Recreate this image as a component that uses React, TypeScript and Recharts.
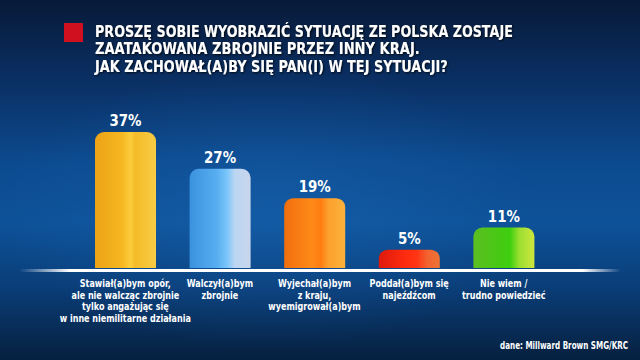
import React from 'react';
import { BarChart, Bar, XAxis, YAxis, Cell, LabelList } from 'recharts';

const answers = [
  'Stawiał(a)bym opór,\nale nie walcząc zbrojnie\ntylko angażując się\nw inne niemilitarne działania',
  'Walczył(a)bym\nzbrojnie',
  'Wyjechał(a)bym\nz kraju,\nwyemigrował(a)bym',
  'Poddał(a)bym się\nnajeźdźcom',
  'Nie wiem /\ntrudno powiedzieć',
];
const shares = [37, 27, 19, 5, 11];
const titleLines = [
  'PROSZĘ SOBIE WYOBRAZIĆ SYTUACJĘ ZE POLSKA ZOSTAJE',
  'ZAATAKOWANA ZBROJNIE PRZEZ INNY KRAJ.',
  'JAK ZACHOWAŁ(A)BY SIĘ PAN(I) W TEJ SYTUACJI?',
];
const source = 'dane: Millward Brown SMG/KRC';

// horizontal "cylinder" shading per bar
const barStops = [
  [['0%', '#eca215'], ['45%', '#f6b822'], ['58%', '#fbcd3c'], ['66%', '#f4bb28'], ['100%', '#f8cc46']],
  [['0%', '#3a92de'], ['45%', '#58aef0'], ['62%', '#7cc6fa'], ['74%', '#bcd6f2'], ['100%', '#c9d6ec']],
  [['0%', '#f06e0e'], ['45%', '#ff8a18'], ['60%', '#ff7c12'], ['72%', '#fca02e'], ['100%', '#fbb23c']],
  [['0%', '#de1a0c'], ['45%', '#ff2c10'], ['62%', '#ff3412'], ['80%', '#f26430'], ['100%', '#ee7434']],
  [['0%', '#5cbe22'], ['40%', '#48c814'], ['60%', '#3ecf10'], ['75%', '#9ade30'], ['100%', '#cfe63e']],
];

const data = answers.map((name, i) => ({ name, value: shares[i] }));

const FONT = '"DejaVu Sans", sans-serif';
const TICK_SQUEEZE = 0.73;
const VALUE_SQUEEZE = 0.84;

// the original uses a condensed face, so squeeze DejaVu to the measured widths
let ctx: CanvasRenderingContext2D | null = null;
const measure = (text: string, size: number) => {
  if (!ctx) ctx = document.createElement('canvas').getContext('2d');
  if (!ctx) return text.length * size * 0.65;
  ctx.font = `bold ${size}px "DejaVu Sans"`;
  return ctx.measureText(text).width;
};

const Squeezed = ({ x, y, text, size, width, anchor = 'start' }: any) => {
  const k = width / measure(text, size);
  return (
    <g transform={`translate(${x},0) scale(${k},1)`}>
      <text x={0} y={y} textAnchor={anchor} fill="#ffffff" fontFamily={FONT} fontWeight="bold" fontSize={size}>
        {text}
      </text>
    </g>
  );
};

const AnswerTick = (props: any) => {
  const { x, y, payload } = props;
  const lines = String(payload.value).split('\n');
  return (
    <g transform={`translate(${x},0) scale(${TICK_SQUEEZE},1)`}>
      {lines.map((line, i) => (
        <text
          key={i}
          x={0}
          y={y + 19 + i * 11.7}
          textAnchor="middle"
          fill="#ffffff"
          fontFamily={FONT}
          fontWeight="bold"
          fontSize={11}
        >
          {line}
        </text>
      ))}
    </g>
  );
};

const ValueLabel = (props: any) => {
  const { x, y, width, value } = props;
  const cx = x + width / 2;
  return (
    <g transform={`translate(${cx},0) scale(${VALUE_SQUEEZE},1)`}>
      <text x={0} y={y - 6} textAnchor="middle" fill="#ffffff" fontFamily={FONT} fontWeight="bold" fontSize={16}>
        {`${value}%`}
      </text>
    </g>
  );
};

export default function App() {
  const titleWidths = [418, 325, 353];
  return (
    <div
      style={{
        position: 'relative',
        width: 640,
        height: 360,
        overflow: 'hidden',
        background:
          'linear-gradient(to bottom, #081a38 0%, #0a2f63 22%, #0c4a8e 45%, #0d5299 62%, #0a3d77 80%, #06203f 100%)',
      }}
    >
      <style>{'body{margin:0}'}</style>
      <div
        style={{
          position: 'absolute',
          inset: 0,
          background: 'radial-gradient(ellipse 60% 55% at 42% 58%, rgba(30,110,190,0.35), rgba(0,0,0,0) 70%)',
        }}
      />
      <div
        style={{
          position: 'absolute',
          left: 0,
          top: 269,
          width: 640,
          height: 3,
          background:
            'linear-gradient(to right, rgba(255,255,255,0) 3%, #ffffff 11%, #ffffff 91%, rgba(255,255,255,0) 97%)',
        }}
      />
      <svg width={640} height={360} style={{ position: 'absolute', left: 0, top: 0 }}>
        <defs>
          <filter id="txtShadow" x="-5%" y="-30%" width="110%" height="160%">
            <feDropShadow dx="1" dy="1" stdDeviation="1" floodColor="#000" floodOpacity="0.8" />
          </filter>
        </defs>
        <rect x={64} y={23} width={19} height={19} fill="#d0101e" />
        <g filter="url(#txtShadow)">
          {titleLines.map((t, i) => (
            <Squeezed key={i} x={95} y={37 + i * 17.5} text={t} size={15} width={titleWidths[i]} />
          ))}
        </g>
        <Squeezed x={628} y={349} text={source} size={11} width={128} anchor="end" />
      </svg>
      <div style={{ position: 'absolute', left: 0, top: 0 }}>
        <BarChart
          width={640}
          height={360}
          data={data}
          margin={{ top: 121, right: 89, bottom: 0, left: 78 }}
          barSize={61}
        >
          <defs>
            {barStops.map((stops, i) => (
              <linearGradient key={i} id={`barGrad${i}`} x1="0" y1="0" x2="1" y2="0">
                {stops.map(([off, col], j) => (
                  <stop key={j} offset={off} stopColor={col} />
                ))}
              </linearGradient>
            ))}
          </defs>
          <YAxis hide domain={[0, 40]} />
          <XAxis
            dataKey="name"
            axisLine={false}
            tickLine={false}
            tickSize={0}
            tickMargin={0}
            height={92}
            interval={0}
            tick={<AnswerTick />}
          />
          <Bar dataKey="value" radius={[9, 9, 0, 0]} isAnimationActive={false}>
            {data.map((_, i) => (
              <Cell key={i} fill={`url(#barGrad${i})`} />
            ))}
            <LabelList dataKey="value" content={<ValueLabel />} />
          </Bar>
        </BarChart>
      </div>
    </div>
  );
}
